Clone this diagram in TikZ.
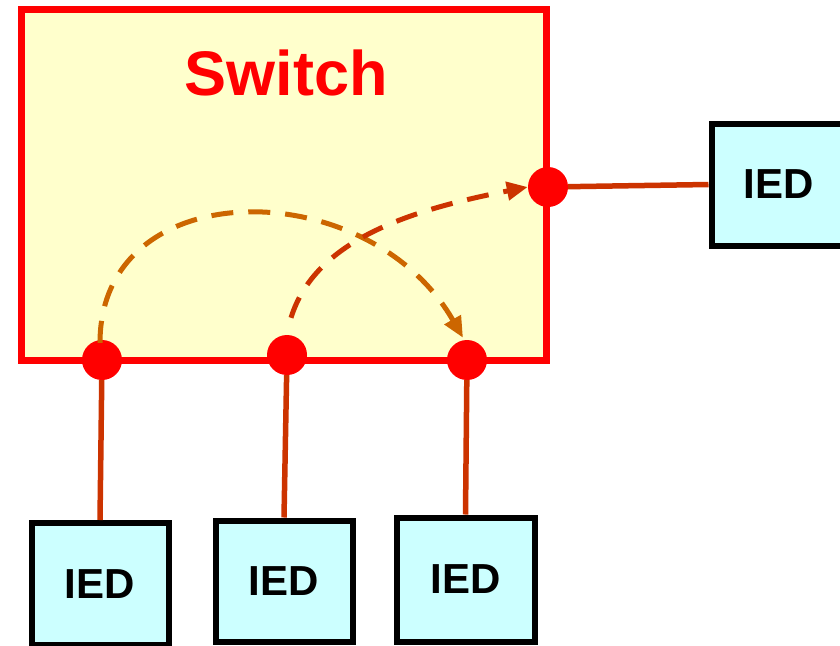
\documentclass[tikz,border=0pt]{standalone}
\usepackage{fontspec}
\setmainfont{Liberation Sans}
\usetikzlibrary{arrows.meta,calc}
\definecolor{swfill}{HTML}{FFFFCC}
\definecolor{iedfill}{HTML}{CCFFFF}
\definecolor{linkc}{HTML}{CC3300}
\definecolor{arrA}{HTML}{CC6600}
\begin{document}
\begin{tikzpicture}[x=1pt,y=-1pt,
  switchbox/.style={draw=red,line width=7pt,fill=swfill},
  ied/.style={draw=black,line width=6pt,fill=iedfill,inner sep=0pt,font=\fontsize{42}{46}\selectfont\bfseries},
  port/.style={circle,fill=red,minimum size=40pt,inner sep=0pt},
  link/.style={draw=linkc,line width=5.5pt},
  flow/.style={line width=5pt,dash pattern=on 22pt off 15pt,-{Triangle[length=21pt,width=18pt]}}]
\useasboundingbox (0,0) rectangle (840,645);
\draw[switchbox] (21,9) rectangle (546.5,360.5);
\node[text=red,font=\fontsize{63}{70}\selectfont\bfseries] (sw) at (286,73) {Switch};
% ports
\node[port] (p1) at (102,360) {};
\node[port] (p2) at (287,355) {};
\node[port] (p3) at (467,360) {};
\node[port] (p4) at (548,187) {};
% IEDs
\node[ied,minimum width=137pt,minimum height=122pt] (i1) at (100,584) {IED};
\node[ied,minimum width=137pt,minimum height=121pt] (i2) at (284,581) {IED};
\node[ied,minimum width=138pt,minimum height=124pt] (i3) at (465.5,579.5) {IED};
\node[ied,minimum width=140pt,minimum height=122pt,anchor=west] (i4) at (708.5,184.5) {\hspace*{-6pt}IED};
% links
\draw[link] (p1) -- (i1.north);
\draw[link] (p2) -- (i2.north);
\draw[link] (p3) -- (i3.north);
\draw[link] (p4) -- (i4.west);
% flows
\draw[flow,arrA] ([shift={(-2,3)}]p1.north) .. controls (100,172) and (368,172) .. ([shift={(-4,-2)}]p3.north);
\draw[flow,linkc] ([shift={(4,-17)}]p2.north) .. controls (315,240) and (410,210) .. (p4.west);
\end{tikzpicture}
\end{document}
